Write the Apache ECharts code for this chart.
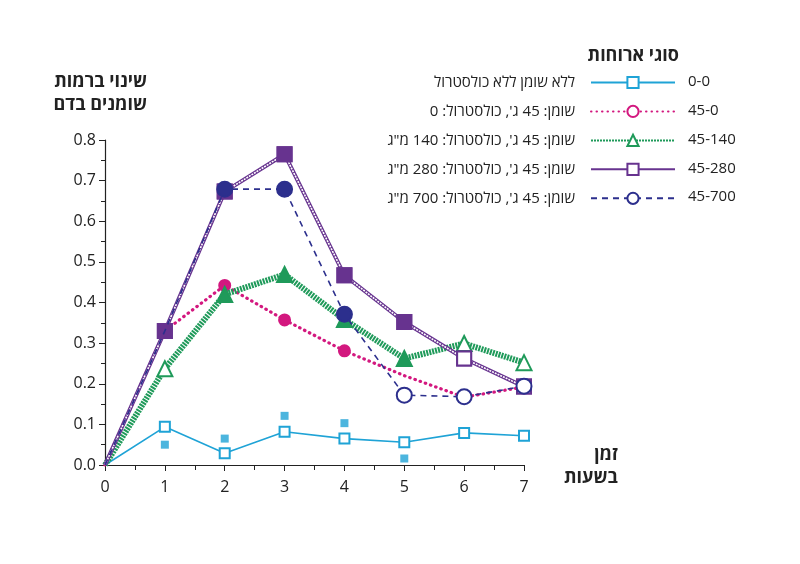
<!DOCTYPE html>
<html>
<head>
<meta charset="utf-8">
<script src="https://cdn.jsdelivr.net/npm/echarts@6/dist/echarts.min.js"></script>
<style>
html,body{margin:0;padding:0;background:#fff;}
#c{width:800px;height:564px;direction:rtl;}
</style>
</head>
<body>
<div id="c" dir="rtl"></div>
<script>
// ---- data ----
const hours = [0, 1, 2, 3, 4, 5, 6, 7];
const seriesCodes = ['0-0', '45-0', '45-140', '45-280', '45-700'];
const seriesNames = [
  'ללא שומן ללא כולסטרול',
  'שומן: 45 ג\', כולסטרול: 0',
  'שומן: 45 ג\', כולסטרול: 140 מ"ג',
  'שומן: 45 ג\', כולסטרול: 280 מ"ג',
  'שומן: 45 ג\', כולסטרול: 700 מ"ג'
];
const v00   = [0, 0.094, 0.029, 0.082, 0.065, 0.056, 0.079, 0.072];
const v450  = [0, 0.330, 0.442, 0.357, 0.281, 0.220, 0.167, 0.192];
const v4514 = [0, 0.237, 0.420, 0.469, 0.358, 0.262, 0.299, 0.252];
const v4528 = [0, 0.330, 0.673, 0.765, 0.467, 0.352, 0.262, 0.193];
const v4570 = [0, 0.330, 0.679, 0.679, 0.371, 0.172, 0.168, 0.194];
const v00Extra = [null, 0.050, 0.065, 0.121, 0.103, 0.016, null, null];
// marker kind per point: 'f' filled, 'o' open, '-' none
const m00   = ['-', 'o', 'o', 'o', 'o', 'o', 'o', 'o'];
const m450  = ['-', 'f', 'f', 'f', 'f', '-', 'o', 'o'];
const m4514 = ['-', 'o', 'f', 'f', 'f', 'f', 'o', 'o'];
const m4528 = ['-', 'f', 'f', 'f', 'f', 'f', 'o', 'o'];
const m4570 = ['-', '-', 'f', 'f', 'f', 'o', 'o', 'o'];
const yTitle = ['שינוי ברמות', 'שומנים בדם'];
const xTitle = ['זמן', 'בשעות'];
const legendTitle = 'סוגי ארוחות';

const C = {
  cyan: '#1fa3d6', magenta: '#d3187f', green: '#1f9a5a', purple: '#67338f', navy: '#2c2f8d'
};
const FONT = '"Open Sans", "DejaVu Sans", sans-serif';

function pts(vals, marks, color) {
  return hours.map((h, i) => {
    const k = marks[i];
    const item = { value: [h, vals[i]] };
    if (k === '-') { item.symbol = 'none'; }
    else if (k === 'f') { item.itemStyle = { color: color, borderColor: color, borderWidth: 2 }; }
    else { item.itemStyle = { color: '#ffffff', borderColor: color, borderWidth: 2 }; }
    return item;
  });
}

function lineSeries(idx, vals, marks, color, symbol, size, lineStyle, z) {
  return {
    name: seriesNames[idx], type: 'line', data: pts(vals, marks, color),
    symbol: symbol, symbolSize: size, z: z,
    lineStyle: Object.assign({ color: color }, lineStyle),
    itemStyle: { color: '#ffffff', borderColor: color, borderWidth: 2 },
    emphasis: { disabled: true }, animation: false
  };
}

const chart = echarts.init(document.getElementById('c'), null, { renderer: 'canvas' });

const series = [
  lineSeries(0, v00, m00, C.cyan, 'rect', 10, { width: 1.6, type: 'solid' }, 2),
  {
    name: 'extra', type: 'scatter', symbol: 'rect', symbolSize: 8, z: 2,
    data: hours.map((h, i) => v00Extra[i] == null ? null : [h, v00Extra[i]]).filter(d => d),
    itemStyle: { color: C.cyan }, emphasis: { disabled: true }, animation: false
  },
  lineSeries(1, v450, m450, C.magenta, 'circle', 11, { width: 3.2, type: [0.5, 5], cap: 'round' }, 3),
  lineSeries(2, v4514, m4514, C.green, 'triangle', 15, { width: 6, type: [2, 1] }, 4),
  lineSeries(3, v4528, m4528, C.purple, 'rect', 14, { width: 4, type: 'solid' }, 5),
  {
    name: 'purple-inner', type: 'line', symbol: 'none', z: 5,
    data: hours.map((h, i) => [h, v4528[i]]),
    lineStyle: { color: '#ffffff', width: 1.6, type: [2, 1] },
    emphasis: { disabled: true }, animation: false
  },
  lineSeries(4, v4570, m4570, C.navy, 'circle', 15, { width: 1.6, type: [6, 5] }, 6)
];
// redraw purple markers above inner white line
series.push({
  name: 'purple-marks', type: 'line', z: 5, symbol: 'rect', symbolSize: 14,
  data: pts(v4528, m4528, C.purple), lineStyle: { width: 0, opacity: 0 },
  emphasis: { disabled: true }, animation: false
});

const graphics = [];
seriesCodes.forEach((code, i) => {
  graphics.push({ type: 'text', left: 688, top: 74.5 + i * 28.75,
    style: { text: code, font: '15px ' + FONT, fill: '#222' } });
});
graphics.push({ type: 'text', right: 653, top: 70,
  style: { text: yTitle.join('\n'), font: 'bold 18px ' + FONT, fill: '#222', textAlign: 'right', lineHeight: 23 } });
graphics.push({ type: 'text', right: 121, top: 47,
  style: { text: legendTitle, font: 'bold 18px ' + FONT, fill: '#222' } });
graphics.push({ type: 'text', right: 182, top: 443,
  style: { text: xTitle.join('\n'), font: 'bold 18px ' + FONT, fill: '#222', textAlign: 'right', lineHeight: 23 } });

chart.setOption({
  animation: false,
  backgroundColor: '#ffffff',
  grid: { left: 105, right: 276, top: 140, bottom: 99, containLabel: false },
  legend: {
    data: seriesNames,
    orient: 'vertical', right: 124, top: 75, align: 'right', padding: 0,
    itemWidth: 84, itemHeight: 14, itemGap: 13.95,
    selectedMode: false,
    textStyle: { fontSize: 15, fontFamily: FONT, color: '#222', padding: [0, 11, 0, 0] }
  },
  xAxis: {
    type: 'value', min: 0, max: 7, interval: 1,
    axisLine: { lineStyle: { color: '#222', width: 1.2 } },
    axisTick: { show: true, length: 6, lineStyle: { color: '#222' } },
    minorTick: { show: true, splitNumber: 2, length: 5, lineStyle: { color: '#222' } },
    splitLine: { show: false },
    axisLabel: { fontSize: 16, fontFamily: FONT, color: '#222', margin: 14 }
  },
  yAxis: {
    type: 'value', min: 0, max: 0.8, interval: 0.1,
    axisLine: { show: true, lineStyle: { color: '#222', width: 1.2 } },
    axisTick: { show: true, length: 6, lineStyle: { color: '#222' } },
    minorTick: { show: true, splitNumber: 2, length: 4, lineStyle: { color: '#222' } },
    splitLine: { show: false },
    axisLabel: { fontSize: 16, fontFamily: FONT, color: '#222', margin: 9, formatter: v => v.toFixed(1) }
  },
  graphic: graphics,
  series: series
});
</script>
</body>
</html>
